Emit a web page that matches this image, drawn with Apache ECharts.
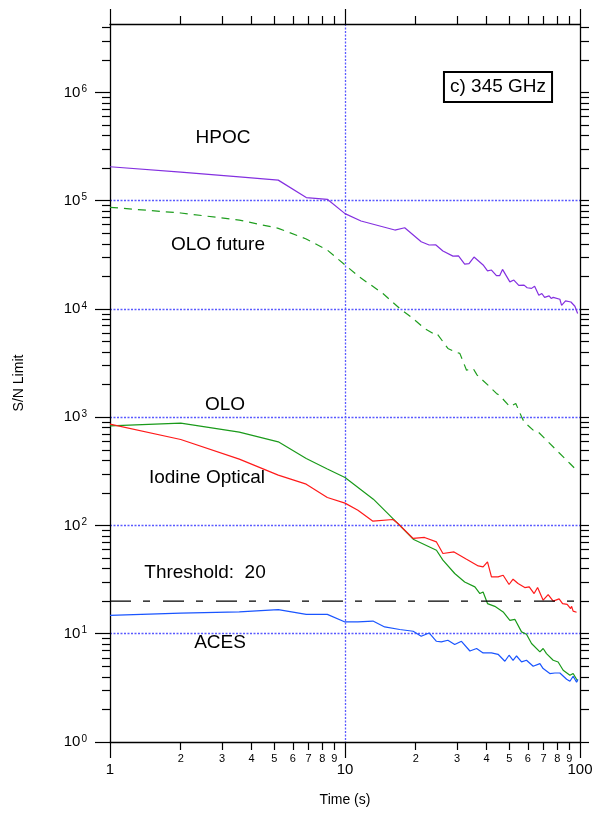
<!DOCTYPE html>
<html>
<head>
<meta charset="utf-8">
<script src="https://cdn.jsdelivr.net/npm/echarts@6/dist/echarts.min.js"></script>
<style>
  html, body { margin: 0; padding: 0; background: #fff; }
  #chart { width: 592px; height: 813px; }
</style>
</head>
<body>
<div id="chart"></div>
<script>
// Tick positions (log axes)
const timeTicksMajor = [1, 10, 100];
const timeTicksMinor = [2, 3, 4, 5, 6, 7, 8, 9, 20, 30, 40, 50, 60, 70, 80, 90];
const snTicksMajor = [1, 10, 100, 1e3, 1e4, 1e5, 1e6];
const snTicksMinor = [
  2, 3, 4, 5, 6, 7, 8, 9,
  20, 30, 40, 50, 60, 70, 80, 90,
  200, 300, 400, 500, 600, 700, 800, 900,
  2e3, 3e3, 4e3, 5e3, 6e3, 7e3, 8e3, 9e3,
  2e4, 3e4, 4e4, 5e4, 6e4, 7e4, 8e4, 9e4,
  2e5, 3e5, 4e5, 5e5, 6e5, 7e5, 8e5, 9e5,
  2e6, 3e6, 4e6
];
const timeRange = [1, 100];
const snRange = [1, 4.29e6];

// S/N limit vs. integration time, [time (s), S/N]
const hpoc = [
  [1, 2.06e5], [2, 1.84e5], [3.55, 1.66e5], [5.2, 1.55e5], [6.84, 1.07e5], [8.41, 1.03e5],
  [10, 7.6e4], [11.7, 6.5e4], [16.3, 5.36e4], [17.95, 5.63e4], [21.1, 4.18e4], [22.8, 3.9e4],
  [24.3, 3.92e4], [26.1, 3.43e4], [28.8, 3.08e4], [30.4, 3.1e4], [32.3, 2.6e4], [33.7, 2.62e4],
  [35.4, 3.02e4], [38.7, 2.55e4], [40.4, 2.25e4], [42.0, 2.29e4], [44.1, 2.03e4], [45.5, 2.03e4],
  [46.8, 2.32e4], [50.3, 1.78e4], [52.3, 1.85e4], [54.9, 1.65e4], [57.8, 1.66e4], [59.6, 1.57e4],
  [62.2, 1.55e4], [64.1, 1.62e4], [66.8, 1.34e4], [68.8, 1.39e4], [70.7, 1.28e4], [73.9, 1.32e4],
  [75.4, 1.25e4], [76.9, 1.28e4], [82.1, 1.23e4], [83.5, 1.08e4], [86.8, 1.19e4], [91.5, 1.16e4],
  [95.1, 1.06e4], [96.7, 1.03e4], [97.7, 9.1e3]
];
const oloFuture = [
  [1, 8.69e4], [2, 7.7e4], [3.55, 6.63e4], [5.2, 5.56e4], [6.84, 4.43e4], [8.41, 3.5e4],
  [10, 2.55e4], [11.5, 1.98e4], [14.5, 1.39e4], [17.1, 1.01e4], [19.2, 8.36e3], [21.8, 6.62e3],
  [23.7, 5.95e3], [24.5, 6.03e3], [27.4, 4.32e3], [29.8, 3.97e3], [30.8, 3.89e3], [32.9, 2.72e3],
  [35.1, 2.82e3], [36.5, 2.45e3], [40.6, 1.98e3], [44.1, 1.66e3], [45.6, 1.58e3], [50.3, 1.25e3],
  [53.3, 1.34e3], [56.4, 1.01e3], [57.8, 907], [63.2, 760], [65.7, 749], [73.2, 592],
  [80.7, 479], [90.6, 374], [95.1, 336], [97.3, 348]
];
const olo = [
  [1, 833], [2, 883], [3.55, 728], [5.2, 593], [6.84, 416], [8.41, 333], [10, 278],
  [13.2, 175], [16.8, 104], [19.5, 74.7], [24.5, 59.1], [26.1, 47.8], [29.3, 36.0], [32.3, 30.1],
  [35.7, 27.1], [37.5, 23.5], [38.7, 24.3], [40.4, 19.0], [43.4, 17.9], [47.1, 15.9], [50.3, 13.3],
  [52.8, 13.6], [56.4, 10.4], [59.2, 9.89], [62.2, 8.12], [67.5, 6.79], [69.7, 7.3], [72.0, 6.56],
  [76.9, 5.69], [80.7, 5.48], [84.8, 4.6], [90.6, 4.13], [93.5, 4.29], [96.7, 3.8], [97.9, 3.64]
];
const iodine = [
  [1, 864], [2, 623], [3.55, 410], [5.2, 292], [6.84, 241], [8.41, 181.5], [10, 161],
  [11.35, 138.5], [13.15, 109.6], [16.0, 113.6], [16.8, 104.3], [19.5, 75.9], [21.8, 77.5],
  [24.5, 70.5], [26.1, 55.1], [29.1, 57.0], [32.9, 48.8], [36.9, 42.3], [38.7, 41.4], [40.4, 46.1],
  [42.0, 33.5], [44.8, 33.5], [47.1, 34.7], [49.9, 28.5], [51.9, 31.9], [54.5, 29.1], [58.2, 26.7],
  [60.8, 27.1], [63.8, 23.5], [66.0, 26.7], [69.7, 20.4], [73.2, 23.0], [76.9, 20.0], [81.5, 21.0],
  [84.3, 19.0], [88.2, 18.7], [91.2, 17.1], [92.1, 17.9], [93.5, 16.2], [96.7, 15.8]
];
const aces = [
  [1, 14.8], [2, 15.5], [3.55, 15.9], [5.2, 16.7], [6.84, 15.1], [8.41, 15.1], [10, 12.85],
  [11.35, 12.85], [13.15, 13.1], [14.75, 11.56], [17.1, 10.94], [19.5, 10.55], [21.1, 9.48],
  [22.8, 10.17], [24.5, 8.52], [25.7, 8.4], [27.4, 8.71], [29.3, 7.95], [31.3, 8.52], [34.0, 6.93],
  [36.3, 7.3], [38.7, 6.65], [42.0, 6.65], [44.8, 6.46], [47.9, 5.57], [49.9, 6.33], [51.9, 5.69],
  [53.7, 6.23], [56.4, 5.49], [59.2, 5.69], [63.2, 5.01], [67.5, 5.3], [69.7, 4.77], [74.4, 4.29],
  [78.2, 4.34], [82.1, 4.34], [87.7, 3.8], [90.6, 3.64], [93.5, 4.05], [96.7, 3.56], [97.9, 3.8]
];
const threshold = 20;

const FONT = '"Liberation Sans", Arial, Helvetica, sans-serif';

function gridLine() {
  return { color: '#5a5aff', width: 1.3, type: [2, 1.5], opacity: 1 };
}

function leadingDigit(v) {
  const p = Math.pow(10, Math.floor(Math.log10(v) + 1e-9));
  return String(Math.round(v / p));
}

function timeAxis(position, ticks, tickLen, labels) {
  return {
    type: 'log', logBase: 10, position: position,
    min: timeRange[0], max: timeRange[1],
    axisLine: { show: true, onZero: false, lineStyle: { color: '#000', width: 1.3 } },
    axisTick: { show: true, customValues: ticks, length: tickLen, inside: false,
      lineStyle: { color: '#000', width: 1.2 } },
    axisLabel: labels || { show: false },
    splitLine: { show: false },
    minorTick: { show: false },
    minorSplitLine: { show: false }
  };
}

function snAxis(position, ticks, tickLen, labels) {
  return {
    type: 'log', logBase: 10, position: position,
    min: snRange[0], max: snRange[1],
    axisLine: { show: true, onZero: false, lineStyle: { color: '#000', width: 1.3 } },
    axisTick: { show: true, customValues: ticks, length: tickLen, inside: false,
      lineStyle: { color: '#000', width: 1.2 } },
    axisLabel: labels || { show: false },
    splitLine: { show: false },
    minorTick: { show: false },
    minorSplitLine: { show: false }
  };
}

const xMain = timeAxis('bottom', timeTicksMajor, 16, {
  show: true, customValues: timeTicksMajor, margin: 20,
  fontSize: 15, fontFamily: FONT, color: '#000',
  showMinLabel: true, showMaxLabel: true,
  formatter: (v) => String(Math.round(v))
});
xMain.splitLine = { show: true, showMinLine: false, showMaxLine: false, lineStyle: gridLine() };
xMain.name = 'Time (s)';
xMain.nameLocation = 'middle';
xMain.nameGap = 51;
xMain.nameTextStyle = { fontSize: 14, fontFamily: FONT, color: '#000' };

const xMinor = timeAxis('bottom', timeTicksMinor, 8, {
  show: true, customValues: timeTicksMinor, margin: 11,
  fontSize: 11, fontFamily: FONT, color: '#000',
  formatter: leadingDigit
});
xMinor.axisLine.show = false;

const yMain = snAxis('left', snTicksMajor, 15, {
  show: true, customValues: snTicksMajor, margin: 23,
  showMinLabel: true, showMaxLabel: true,
  formatter: (v) => '{b|10}{s|' + Math.round(Math.log10(v)) + '}',
  rich: {
    b: { fontSize: 15, fontFamily: FONT, color: '#000', lineHeight: 16 },
    s: { fontSize: 10, fontFamily: FONT, color: '#000', verticalAlign: 'top', lineHeight: 10, padding: [0, 0, 0, 1] }
  }
});
yMain.splitLine = { show: true, showMinLine: false, showMaxLine: false, lineStyle: gridLine() };
yMain.name = 'S/N Limit';
yMain.nameLocation = 'middle';
yMain.nameRotate = 90;
yMain.nameGap = 84;
yMain.nameTextStyle = { fontSize: 14, fontFamily: FONT, color: '#000' };

const yMinor = snAxis('left', snTicksMinor, 8);
yMinor.axisLine.show = false;

const yRight = snAxis('right', snTicksMajor.concat(snTicksMinor), 9);

function curve(name, data, color, dashed) {
  return {
    name: name, type: 'line', xAxisIndex: 0, yAxisIndex: 0,
    data: data, showSymbol: false, symbol: 'none', smooth: false,
    clip: true, silent: true, animation: false,
    lineStyle: { color: color, width: 1.2, type: dashed ? [8, 6] : 'solid' }
  };
}

const labelStyle = { fontSize: 19, fontFamily: FONT, fill: '#000', textAlign: 'center', textVerticalAlign: 'middle' };
function note(text, x, y) {
  return { type: 'text', x: x, y: y, z: 50, style: Object.assign({ text: text }, labelStyle) };
}

const option = {
  backgroundColor: '#fff',
  animation: false,
  grid: { left: 110, right: 12, top: 24, bottom: 71, outerBoundsMode: 'none', containLabel: false, show: false },
  xAxis: [
    xMain,
    xMinor,
    timeAxis('top', timeTicksMajor, 15),
    Object.assign(timeAxis('top', timeTicksMinor, 8), { axisLine: { show: false } })
  ],
  yAxis: [yMain, yMinor, yRight],
  series: [
    curve('HPOC', hpoc, '#8430e0', false),
    curve('OLO future', oloFuture, '#1f9e1f', true),
    curve('OLO', olo, '#1a9a1a', false),
    curve('Iodine Optical', iodine, '#ff1a1a', false),
    curve('ACES', aces, '#1a55ff', false),
    {
      name: 'Threshold', type: 'line', xAxisIndex: 0, yAxisIndex: 0,
      data: [[timeRange[0], threshold], [timeRange[1], threshold]],
      symbol: 'none', silent: true, animation: false,
      lineStyle: { color: '#000', width: 1.3, type: [21, 12, 7, 13] }
    }
  ],
  graphic: [
    note('HPOC', 223, 138),
    note('OLO future', 218, 245),
    note('OLO', 225, 405),
    note('Iodine Optical', 207, 478),
    note('Threshold:  20', 205, 573),
    note('ACES', 220, 643),
    {
      type: 'text', x: 498, y: 87, z: 50,
      style: {
        text: 'c) 345 GHz', fontSize: 19, fontFamily: FONT, fill: '#000',
        textAlign: 'center', textVerticalAlign: 'middle',
        backgroundColor: '#fff', borderColor: '#000', borderWidth: 2, padding: [5, 5, 4, 5]
      }
    }
  ]
};

const chart = echarts.init(document.getElementById('chart'), null, { renderer: 'canvas' });
chart.setOption(option);
</script>
</body>
</html>
